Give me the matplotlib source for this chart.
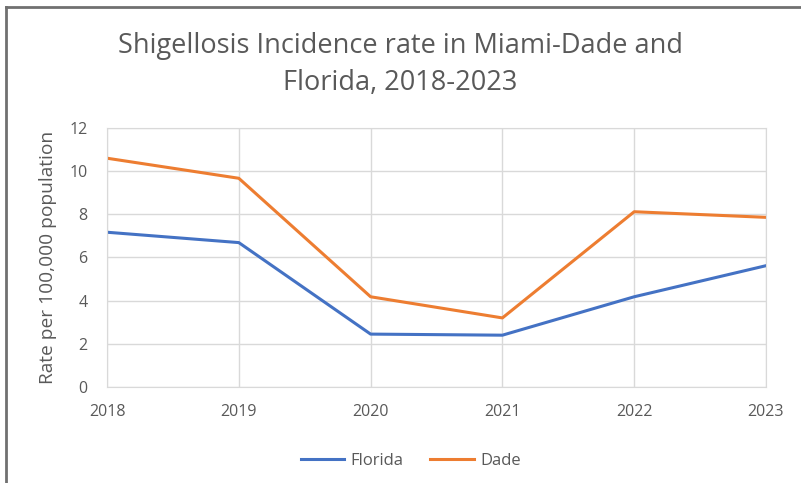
import matplotlib.pyplot as plt
from matplotlib.lines import Line2D

years = [2018, 2019, 2020, 2021, 2022, 2023]
florida = [7.17, 6.69, 2.45, 2.40, 4.18, 5.62]
dade = [10.6, 9.67, 4.18, 3.2, 8.12, 7.86]

plt.rcParams["font.family"] = ["Open Sans", "DejaVu Sans"]
text_col = "#595959"
grid_col = "#d9d9d9"

fig = plt.figure(figsize=(8.01, 4.83), dpi=100)
ax = fig.add_axes([0.1336, 0.1988, 0.8227, 0.5362])

ax.plot(years, florida, color="#4472c4", lw=2.2, label="Florida")
ax.plot(years, dade, color="#ed7d31", lw=2.2, label="Dade")

ax.set_xlim(2018, 2023)
ax.set_ylim(0, 12)
ax.set_xticks(years)
ax.set_yticks(range(0, 13, 2))
ax.grid(True, color=grid_col, lw=1)
ax.set_axisbelow(True)
for s in ax.spines.values():
    s.set_color(grid_col)
ax.tick_params(length=0, labelsize=11.5, colors=text_col)
ax.tick_params(axis="x", pad=12)
ax.tick_params(axis="y", pad=14)
ax.set_ylabel("Rate per 100,000 population", fontsize=13.8, color=text_col, labelpad=9)

fig.text(0.5, 0.867, "Shigellosis Incidence rate in Miami-Dade and\nFlorida, 2018-2023",
         ha="center", va="center", fontsize=19.5, color=text_col, linespacing=1.42)

fig.legend(loc="center", bbox_to_anchor=(0.513, 0.045), ncol=2, frameon=False,
           fontsize=12, labelcolor=text_col, handlelength=2.6, handletextpad=0.4,
           columnspacing=1.6)

# frame lines on the left and top edges
fig.add_artist(Line2D([0.008, 0.008], [0, 0.985], color="#707070", lw=2))
fig.add_artist(Line2D([0.008, 1], [0.985, 0.985], color="#707070", lw=2))

fig.savefig("out.png", dpi=100)
